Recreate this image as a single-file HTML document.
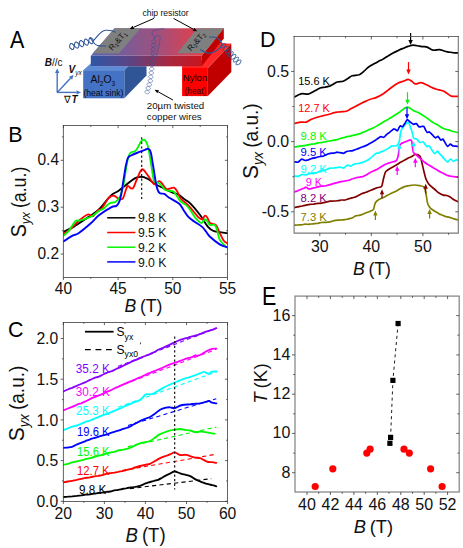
<!DOCTYPE html>
<html><head><meta charset="utf-8"><title>Figure</title>
<style>
html,body{margin:0;padding:0;background:#fff;}
body{width:463px;height:548px;overflow:hidden;font-family:"Liberation Sans",sans-serif;}
svg{display:block;}
text{font-family:"Liberation Sans",sans-serif;}
.c{fill:none;stroke-linecap:round;stroke-linejoin:round;}
.tk{stroke:#303030;stroke-width:0.75;fill:none;}
.tl{font-size:15.2px;fill:#111;}
.at{font-size:17.6px;fill:#111;word-spacing:-1.2px;}
.pl{font-size:21.5px;fill:#000;}
</style></head><body>
<svg width="463" height="548" viewBox="0 0 463 548">
<rect x="0" y="0" width="463" height="548" fill="#ffffff"/>
<g>
<defs>
<linearGradient id="gTop" x1="0" y1="0" x2="1" y2="0"><stop offset="0" stop-color="#5a66b2"/><stop offset="0.18" stop-color="#6e5f9e"/><stop offset="0.5" stop-color="#a0507e"/><stop offset="0.8" stop-color="#e0404c"/><stop offset="1" stop-color="#ff2a2a"/></linearGradient>
<linearGradient id="gFront" x1="0" y1="0" x2="1" y2="0"><stop offset="0" stop-color="#2f57a6"/><stop offset="0.35" stop-color="#5a4485"/><stop offset="0.7" stop-color="#a8283f"/><stop offset="1" stop-color="#c8141e"/></linearGradient>
</defs>
<polygon points="207.9,67.9 231.3,43.6 231.3,72 207.9,96.1" fill="#c00000"/>
<polygon points="182.1,67.9 182.1,62 200,62 219,40 223,43.6 231.3,43.6 207.9,67.9" fill="#ff2828"/>
<rect x="182.1" y="67.9" width="25.8" height="28.2" fill="#ff0000"/>
<polygon points="124.3,70.2 128.1,66.3 146.5,66.3 146.5,75.6 124.3,98.3" fill="#2f5597"/>
<polygon points="83.2,70.2 90.9,63.2 90.9,66.3 128.1,66.3 124.3,70.2" fill="#5b8ad6"/>
<rect x="83.2" y="70.2" width="41.1" height="28.1" fill="#4472c4"/>
<polygon points="90.8,55.8 114.5,28.2 223.8,28.2 201.8,55.8" fill="url(#gTop)"/>
<rect x="90.8" y="55.8" width="111" height="10.5" fill="url(#gFront)"/>
<polygon points="201.8,55.8 223.8,28.2 223.8,38.5 201.8,66.1" fill="#c00000"/>
<polygon points="92.6,53.4 114.5,28.2 140.6,28.2 119.0,53.4" fill="#7f7f7f"/>
<polygon points="177.2,53.2 197.3,28.2 223.8,28.2 203.8,53.2" fill="#7f7f7f"/>
<text transform="translate(112.3,51.0) rotate(-49)" style="font-size:8.2px;fill:#111">R<tspan font-size="5.5px" dy="1.5">1</tspan><tspan dy="-1.5">&amp;T</tspan><tspan font-size="5.5px" dy="1.5">1</tspan></text>
<text transform="translate(191.0,51.6) rotate(-49)" style="font-size:8.2px;fill:#111">R<tspan font-size="5.5px" dy="1.5">2</tspan><tspan dy="-1.5">&amp;T</tspan><tspan font-size="5.5px" dy="1.5">2</tspan></text>
<text x="102.8" y="83.4" text-anchor="middle" style="font-size:10.8px;fill:#0a0a14" textLength="24.5" lengthAdjust="spacingAndGlyphs">Al<tspan font-size="6.8px" dy="2.2">2</tspan><tspan dy="-2.2">O</tspan><tspan font-size="6.8px" dy="2.2">3</tspan></text>
<text x="103.4" y="95.9" text-anchor="middle" style="font-size:8.7px;fill:#0a0a14" textLength="40" lengthAdjust="spacingAndGlyphs">(heat sink)</text>
<text x="195.0" y="80.9" text-anchor="middle" style="font-size:9.8px;fill:#000000" textLength="24.4" lengthAdjust="spacingAndGlyphs">Nylon</text>
<text x="195.4" y="93.8" text-anchor="middle" style="font-size:8.5px;fill:#300000" textLength="21.8" lengthAdjust="spacingAndGlyphs">(heat)</text>
<text x="142.4" y="15.9" style="font-size:8.8px;fill:#111" textLength="46.2" lengthAdjust="spacingAndGlyphs">chip resistor</text>
<text x="146.8" y="108.9" style="font-size:9.9px;fill:#111" textLength="57.4" lengthAdjust="spacingAndGlyphs">20µm twisted</text>
<text x="146.8" y="119.6" style="font-size:9.9px;fill:#111" textLength="54.9" lengthAdjust="spacingAndGlyphs">copper wires</text>
<path d="M154.0,18.4L133.5,27.3" stroke="#000" stroke-width="1.0" fill="none"/>
<path d="M129.6,29.0L132.7,25.7L134.2,29.0Z" fill="#000"/>
<path d="M173.5,18.4L193.5,29.3" stroke="#000" stroke-width="1.0" fill="none"/>
<path d="M197.2,31.3L192.7,30.9L194.4,27.7Z" fill="#000"/>
<path d="M172.9,100.0L158.2,91.8" stroke="#000" stroke-width="1.0" fill="none"/>
<path d="M154.5,89.7L159.0,90.2L157.3,93.3Z" fill="#000"/>
<path d="M57.2,92.4L57.2,73.1" stroke="#4472c4" stroke-width="1.4" fill="none"/>
<path d="M57.2,68.6L59.4,73.1L55.0,73.1Z" fill="#4472c4"/>
<path d="M57.2,92.4L76.5,92.4" stroke="#4472c4" stroke-width="1.4" fill="none"/>
<path d="M81.0,92.4L76.5,94.6L76.5,90.2Z" fill="#4472c4"/>
<path d="M57.2,92.4L70.5,78.2" stroke="#4472c4" stroke-width="1.4" fill="none"/>
<path d="M73.6,74.9L72.1,79.7L68.9,76.7Z" fill="#4472c4"/>
<text x="44.8" y="65.8" style="font-size:10px;fill:#111"><tspan font-weight="bold" font-style="italic">B</tspan>//c</text>
<text x="68.6" y="73.0" style="font-size:10px;fill:#111"><tspan font-weight="bold" font-style="italic">V</tspan><tspan font-size="6.5px" font-style="italic" dy="2.4">yx</tspan></text>
<text x="64.4" y="103.4" style="font-size:10px;fill:#111">∇<tspan font-weight="bold" font-style="italic">T</tspan></text>
<path d="M69.5,47.2 L70.1,47.9 L70.8,48.5 L71.4,49.0 L71.9,49.4 L72.4,49.6 L72.8,49.5 L73.2,49.3 L73.5,48.9 L73.8,48.3 L74.0,47.5 L74.1,46.7 L74.3,45.8 L74.5,44.8 L74.6,44.0 L74.8,43.2 L75.1,42.6 L75.4,42.2 L75.8,42.0 L76.2,42.0 L76.7,42.1 L77.2,42.5 L77.8,43.0 L78.5,43.6 L79.1,44.3 L79.7,45.0 L80.4,45.6 L81.0,46.1 L81.5,46.5 L82.0,46.7 L82.4,46.7 L82.8,46.4 L83.1,46.0 L83.4,45.4 L83.6,44.7 L83.7,43.8 L83.9,42.9 L84.1,42.0 L84.2,41.1 L84.4,40.4 L84.7,39.7 L85.0,39.3 L85.4,39.1 L85.8,39.1 L86.3,39.3 L86.8,39.6 L87.4,40.1 L88.1,40.8 L88.7,41.4 L89.3,42.1 L90.0,42.7 L90.6,43.2 L91.1,43.6 L91.6,43.8 L92.0,43.8 L92.4,43.6 L92.7,43.1 L93.0,42.5 L93.2,41.8 L93.3,40.9 L93.5,40.0" fill="none" stroke="#2f5597" stroke-width="1.05" stroke-linejoin="round"/>
<path d="M69.5,47.2 L69.7,46.3 L69.8,45.4 L70.0,44.7 L70.3,44.1 L70.6,43.6 L71.0,43.4 L71.4,43.4 L71.9,43.6 L72.4,44.0 L73.0,44.5 L73.7,45.1 L74.3,45.8 L74.9,46.4 L75.6,47.1 L76.2,47.6 L76.7,47.9 L77.2,48.1 L77.6,48.1 L78.0,47.9 L78.3,47.5 L78.6,46.8 L78.8,46.1 L78.9,45.2 L79.1,44.3 L79.3,43.4 L79.4,42.5 L79.6,41.8 L79.9,41.2 L80.2,40.8 L80.6,40.5 L81.0,40.5 L81.5,40.7 L82.0,41.1 L82.6,41.6 L83.3,42.2 L83.9,42.9 L84.5,43.6 L85.2,44.2 L85.8,44.7 L86.3,45.1 L86.8,45.2 L87.2,45.2 L87.6,45.0 L87.9,44.6 L88.2,44.0 L88.4,43.2 L88.5,42.4 L88.7,41.4 L88.9,40.5 L89.0,39.7 L89.2,38.9 L89.5,38.3 L89.8,37.9 L90.2,37.7 L90.6,37.6 L91.1,37.8 L91.6,38.2 L92.2,38.7 L92.9,39.3 L93.5,40.0" fill="none" stroke="#2f5597" stroke-width="1.05" stroke-linejoin="round"/>
<path d="M92.5,41.5 C97,38 100,30.6 105.5,30.3 C108.5,30.1 112.5,30.2 115.8,32.4" fill="none" stroke="#2f5597" stroke-width="1.1"/>
<path d="M89.9,37.6 C92.5,40.5 94,45 98,45.6 C101,46.1 103.5,46 106.3,46" fill="none" stroke="#2f5597" stroke-width="1.1"/>
<path d="M221.8,44.4 L221.4,45.2 L221.0,46.0 L220.7,46.7 L220.6,47.3 L220.5,47.7 L220.7,48.0 L221.0,48.2 L221.4,48.2 L222.0,48.1 L222.7,47.8 L223.5,47.5 L224.4,47.2 L225.2,46.8 L226.0,46.5 L226.7,46.3 L227.3,46.2 L227.8,46.2 L228.1,46.3 L228.2,46.6 L228.2,47.1 L228.0,47.7 L227.7,48.4 L227.4,49.1 L226.9,49.9 L226.5,50.8 L226.2,51.5 L225.9,52.2 L225.7,52.8 L225.7,53.3 L225.8,53.6 L226.1,53.7 L226.6,53.7 L227.2,53.6 L227.9,53.4 L228.7,53.1 L229.5,52.7 L230.4,52.4 L231.2,52.1 L231.9,51.8 L232.5,51.7 L232.9,51.7 L233.2,51.9 L233.4,52.2 L233.3,52.6 L233.2,53.2 L232.9,53.9 L232.5,54.7 L232.1,55.5 L231.7,56.3 L231.3,57.1 L231.0,57.8 L230.8,58.4 L230.8,58.8 L231.0,59.1 L231.2,59.3 L231.7,59.3 L232.3,59.2 L233.0,58.9 L233.8,58.6 L234.7,58.3 L235.5,57.9 L236.3,57.6 L237.0,57.4 L237.6,57.2 L238.1,57.2 L238.4,57.4 L238.5,57.7 L238.5,58.2 L238.3,58.7 L238.0,59.4 L237.6,60.2 L237.2,61.0 L236.8,61.8 L236.4,62.6 L236.2,63.3 L236.0,63.9 L236.0,64.4 L236.1,64.7 L236.4,64.8 L236.8,64.8 L237.4,64.7 L238.2,64.5 L239.0,64.1 L239.8,63.8" fill="none" stroke="#2f5597" stroke-width="0.95" stroke-linejoin="round"/>
<path d="M221.8,44.4 L222.6,44.1 L223.4,43.7 L224.2,43.5 L224.8,43.4 L225.2,43.4 L225.5,43.5 L225.6,43.8 L225.6,44.3 L225.4,44.9 L225.2,45.6 L224.8,46.4 L224.4,47.2 L224.0,48.0 L223.6,48.8 L223.3,49.5 L223.1,50.0 L223.1,50.5 L223.2,50.8 L223.5,51.0 L224.0,51.0 L224.6,50.8 L225.3,50.6 L226.1,50.3 L226.9,49.9 L227.8,49.6 L228.6,49.3 L229.3,49.0 L229.9,48.9 L230.4,48.9 L230.6,49.1 L230.8,49.4 L230.8,49.8 L230.6,50.4 L230.3,51.1 L229.9,51.9 L229.5,52.7 L229.1,53.5 L228.7,54.3 L228.4,55.0 L228.3,55.6 L228.2,56.0 L228.4,56.3 L228.7,56.5 L229.1,56.5 L229.7,56.4 L230.4,56.1 L231.2,55.8 L232.1,55.5 L232.9,55.1 L233.7,54.8 L234.4,54.6 L235.0,54.5 L235.5,54.5 L235.8,54.6 L235.9,54.9 L235.9,55.4 L235.7,56.0 L235.4,56.7 L235.1,57.4 L234.7,58.3 L234.2,59.1 L233.9,59.8 L233.6,60.5 L233.4,61.1 L233.4,61.6 L233.5,61.9 L233.8,62.0 L234.3,62.0 L234.9,61.9 L235.6,61.7 L236.4,61.4 L237.2,61.0 L238.1,60.7 L238.9,60.4 L239.6,60.1 L240.2,60.0 L240.6,60.0 L240.9,60.2 L241.1,60.5 L241.0,60.9 L240.9,61.5 L240.6,62.2 L240.2,63.0 L239.8,63.8" fill="none" stroke="#2f5597" stroke-width="0.95" stroke-linejoin="round"/>
<path d="M209,37.3 C213,36.6 216.5,36.8 218.8,39 C220.8,41 221.6,43 223,46" fill="none" stroke="#2f5597" stroke-width="1.1"/>
<path d="M200.3,49.5 C203.5,51.5 206,53.3 209.5,53.1 C214,52.8 218.5,49.5 222,45.3" fill="none" stroke="#2f5597" stroke-width="1.1"/>
<path d="M154.0,39.5 L153.2,39.8 L152.5,40.2 L152.0,40.5 L151.6,40.9 L151.5,41.3 L151.5,41.7 L151.9,42.1 L152.4,42.5 L153.0,43.0 L153.7,43.4 L154.4,43.9 L155.1,44.3 L155.6,44.8 L155.9,45.2 L155.9,45.6 L155.8,46.0 L155.4,46.3 L154.9,46.7 L154.2,47.0 L153.4,47.4 L152.6,47.7 L151.9,48.0 L151.4,48.4 L151.0,48.8 L150.9,49.1 L151.0,49.5 L151.3,50.0 L151.8,50.4 L152.4,50.8 L153.1,51.3 L153.8,51.7 L154.5,52.2 L155.0,52.6 L155.3,53.0 L155.4,53.4 L155.2,53.8 L154.8,54.2 L154.3,54.5 L153.6,54.9 L152.8,55.2 L152.0,55.6 L151.3,55.9 L150.8,56.3 L150.4,56.6 L150.3,57.0 L150.4,57.4 L150.7,57.8 L151.2,58.3 L151.8,58.7 L152.5,59.2 L153.2,59.6 L153.9,60.0 L154.4,60.5 L154.7,60.9 L154.8,61.3 L154.6,61.7 L154.2,62.1 L153.7,62.4 L153.0,62.7 L152.2,63.1 L151.4,63.4 L150.8,63.8 L150.2,64.1 L149.8,64.5 L149.7,64.9 L149.8,65.3 L150.1,65.7 L150.6,66.1 L151.2,66.6 L151.9,67.0 L152.6,67.5 L153.2,68.0 L153.7,68.4 L154.0,68.8 L154.1,69.2 L153.9,69.6 L153.5,70.0 L153.0,70.3 L152.3,70.6 L151.5,70.9 L150.7,71.2 L150.0,71.6 L149.4,71.9 L149.0,72.2 L148.9,72.6 L148.9,73.0 L149.2,73.5 L149.7,73.9 L150.3,74.4 L151.0,74.8 L151.7,75.3 L152.3,75.8 L152.8,76.2 L153.1,76.7 L153.2,77.1 L153.0,77.5 L152.7,77.8 L152.1,78.1 L151.4,78.5 L150.6,78.8 L149.8,79.1 L149.1,79.4 L148.5,79.7 L148.1,80.1 L148.0,80.1 L148.0,80.5 L148.2,80.9 L148.6,81.5 L149.2,82.0 L149.8,82.6 L150.4,83.2 L150.9,83.7 L151.3,84.3 L151.6,84.7 L151.6,85.2 L151.3,85.5 L150.9,85.8 L150.3,86.0 L149.5,86.2 L148.7,86.4 L147.9,86.6 L147.2,86.8 L146.5,87.0 L146.1,87.3 L145.9,87.7 L145.9,88.1 L146.1,88.5 L146.5,89.1 L147.1,89.6 L147.7,90.2 L148.3,90.8 L148.8,91.3 L149.2,91.9 L149.4,92.3 L149.4,92.7 L149.2,93.1 L148.8,93.4 L148.2,93.6 L147.4,93.8 L146.6,94.0" fill="none" stroke="#2f5597" stroke-width="0.55" stroke-linejoin="round"/>
<path d="M154.0,39.5 L154.7,39.9 L155.3,40.4 L155.8,40.8 L156.2,41.2 L156.2,41.6 L156.1,42.0 L155.7,42.4 L155.2,42.8 L154.5,43.1 L153.7,43.4 L152.9,43.8 L152.2,44.1 L151.7,44.5 L151.3,44.8 L151.2,45.2 L151.2,45.6 L151.6,46.0 L152.1,46.5 L152.7,46.9 L153.4,47.4 L154.1,47.8 L154.8,48.3 L155.3,48.7 L155.6,49.1 L155.7,49.5 L155.5,49.9 L155.1,50.3 L154.6,50.6 L153.9,51.0 L153.1,51.3 L152.3,51.6 L151.6,52.0 L151.1,52.3 L150.7,52.7 L150.6,53.1 L150.7,53.5 L151.0,53.9 L151.5,54.3 L152.1,54.8 L152.8,55.2 L153.5,55.7 L154.2,56.1 L154.7,56.5 L155.0,57.0 L155.1,57.4 L154.9,57.8 L154.5,58.1 L154.0,58.5 L153.3,58.8 L152.5,59.2 L151.7,59.5 L151.0,59.8 L150.5,60.2 L150.1,60.6 L150.0,60.9 L150.1,61.3 L150.4,61.8 L150.9,62.2 L151.5,62.6 L152.2,63.1 L152.9,63.5 L153.6,64.0 L154.1,64.4 L154.4,64.8 L154.5,65.2 L154.3,65.6 L153.9,66.0 L153.4,66.3 L152.7,66.7 L151.9,67.0 L151.2,67.3 L150.4,67.6 L149.9,68.0 L149.5,68.3 L149.3,68.7 L149.4,69.1 L149.7,69.5 L150.2,70.0 L150.8,70.5 L151.5,70.9 L152.2,71.4 L152.8,71.9 L153.3,72.3 L153.6,72.8 L153.6,73.2 L153.5,73.5 L153.1,73.9 L152.5,74.2 L151.8,74.5 L151.0,74.8 L150.3,75.2 L149.5,75.5 L149.0,75.8 L148.6,76.2 L148.4,76.5 L148.5,76.9 L148.8,77.4 L149.3,77.8 L149.9,78.3 L150.6,78.8 L151.3,79.2 L151.9,79.7 L152.4,80.2 L152.7,80.6 L152.6,81.4 L152.4,81.7 L152.0,82.0 L151.4,82.2 L150.6,82.4 L149.8,82.6 L149.0,82.8 L148.2,83.0 L147.6,83.2 L147.2,83.5 L146.9,83.9 L146.9,84.3 L147.2,84.7 L147.6,85.3 L148.1,85.8 L148.7,86.4 L149.3,87.0 L149.9,87.5 L150.3,88.1 L150.5,88.5 L150.5,89.0 L150.3,89.3 L149.8,89.6 L149.2,89.8 L148.5,90.0 L147.7,90.2 L146.8,90.4 L146.1,90.6 L145.5,90.8 L145.0,91.1 L144.8,91.5 L144.8,91.9 L145.0,92.3 L145.5,92.9 L146.0,93.4 L146.6,94.0" fill="none" stroke="#2f5597" stroke-width="0.55" stroke-linejoin="round"/>
<path d="M164.3,28.6 C158,29 152,30.5 151.9,33 C151.8,35.5 156,36.5 154.5,39.5" fill="none" stroke="#2f5597" stroke-width="0.65"/>
<path d="M153.5,39 C156,35.5 160.5,33.8 160.2,37.5 C159.8,44 157.5,50 156.3,57" fill="none" stroke="#2f5597" stroke-width="0.6"/>
<text transform="translate(9.9,48.0) scale(1,1.085)" class="pl">A</text>
</g>
<g>
<clipPath id="clipB"><rect x="63.3" y="125.6" width="164.2" height="151.79999999999998"/></clipPath>
<g clip-path="url(#clipB)">
<path d="M63.4,231.8 C65.1,231.0 69.9,229.0 73.6,226.9 C77.2,224.8 81.1,222.1 85.3,219.2 C89.5,216.3 94.7,213.3 98.9,209.4 C103.1,205.5 107.3,198.9 110.5,195.8 C113.7,192.7 115.7,192.8 118.3,191.0 C120.9,189.2 123.7,186.8 126.0,185.0 C128.3,183.2 130.2,181.5 132.0,180.2 C133.8,178.9 135.6,178.0 137.0,177.4 C138.4,176.8 139.5,176.7 140.7,176.7 C141.9,176.7 143.0,176.8 144.2,177.2 C145.4,177.6 146.1,177.8 148.0,179.0 C149.9,180.2 153.1,182.7 155.6,184.2 C158.1,185.7 160.4,186.7 163.0,188.0 C165.6,189.3 168.3,190.8 171.0,192.0 C173.7,193.2 176.6,193.7 178.9,194.9 C181.2,196.2 182.8,198.1 184.7,199.5 C186.6,200.9 187.9,201.0 190.5,203.6 C193.1,206.2 197.4,211.4 200.3,215.3 C203.2,219.2 205.7,224.2 208.0,226.9 C210.3,229.6 211.6,230.3 213.9,231.2 C216.2,232.1 219.3,232.1 221.6,232.4 C223.9,232.7 226.5,233.1 227.5,233.2" class="c" stroke="#000000" stroke-width="1.85"/>
<path d="M63.4,233.7 C64.5,233.1 67.4,231.8 69.7,229.9 C72.0,228.0 75.2,224.1 77.5,222.0 C79.8,219.9 81.5,218.5 83.3,217.2 C85.1,215.9 86.6,214.5 88.2,214.3 C89.8,214.1 91.4,216.8 93.0,216.2 C94.6,215.5 96.4,211.7 97.9,210.4 C99.4,209.1 100.2,210.3 101.8,208.5 C103.4,206.7 106.1,201.3 107.6,199.3 C109.1,197.3 109.9,196.9 111.0,196.3 C112.1,195.7 113.2,195.4 114.4,195.8 C115.6,196.2 117.2,198.1 118.3,198.7 C119.4,199.3 120.2,199.3 121.0,199.2 C121.8,199.0 122.2,199.8 123.2,197.8 C124.2,195.8 126.0,188.9 127.0,187.0 C128.0,185.1 128.3,186.3 129.0,186.5 C129.7,186.7 130.2,188.2 131.0,188.4 C131.8,188.6 132.5,189.1 133.5,187.5 C134.5,185.9 135.6,182.0 137.0,179.0 C138.4,176.0 140.2,169.9 142.0,169.3 C143.8,168.7 145.9,173.0 147.8,175.4 C149.7,177.8 152.2,182.5 153.6,183.8 C155.0,185.1 155.5,183.4 156.5,183.0 C157.5,182.6 158.4,181.0 159.4,181.2 C160.4,181.4 161.4,182.7 162.5,184.0 C163.6,185.3 164.9,188.2 166.2,189.0 C167.4,189.8 168.7,188.7 170.0,188.5 C171.3,188.3 172.8,187.3 174.0,187.7 C175.2,188.1 175.9,189.2 177.0,191.0 C178.1,192.8 178.9,196.3 180.8,198.7 C182.7,201.1 185.7,202.5 188.6,205.6 C191.5,208.7 196.0,214.9 198.3,217.2 C200.6,219.5 201.1,219.4 202.2,219.2 C203.3,218.9 204.2,215.9 205.1,215.7 C206.0,215.5 206.7,216.8 207.5,218.0 C208.3,219.2 208.6,221.8 210.0,223.0 C211.4,224.2 214.2,223.4 215.8,225.0 C217.4,226.6 218.4,230.2 219.7,232.8 C221.0,235.4 222.3,238.7 223.6,240.5 C224.9,242.3 226.8,243.0 227.5,243.5" class="c" stroke="#ff0000" stroke-width="1.8"/>
<path d="M63.4,235.7 C64.3,234.9 66.7,233.2 68.7,230.8 C70.7,228.4 73.8,222.7 75.6,221.0 C77.4,219.3 77.8,221.1 79.4,220.7 C81.0,220.3 83.2,219.6 85.3,218.8 C87.4,218.1 89.7,217.5 92.0,216.2 C94.3,214.9 97.0,212.3 98.9,211.0 C100.9,209.7 101.9,209.8 103.7,208.5 C105.5,207.2 107.6,204.3 109.6,203.2 C111.5,202.1 113.6,203.2 115.4,202.0 C117.2,200.8 119.0,198.6 120.3,195.8 C121.6,193.0 122.5,190.0 123.5,185.0 C124.5,180.0 125.6,170.9 126.5,166.0 C127.4,161.1 128.1,157.8 128.9,155.5 C129.7,153.2 130.2,152.9 131.2,152.2 C132.2,151.5 133.8,152.1 134.9,151.3 C136.0,150.5 137.0,148.8 138.0,147.2 C139.0,145.6 140.0,142.9 141.0,141.6 C142.0,140.3 143.1,139.4 144.0,139.6 C144.9,139.8 145.8,140.9 146.6,142.6 C147.4,144.2 147.8,145.4 148.6,149.5 C149.4,153.6 150.8,162.3 151.6,167.3 C152.4,172.3 152.9,176.9 153.6,179.5 C154.2,182.1 154.7,182.0 155.5,182.6 C156.3,183.2 157.4,182.2 158.5,182.8 C159.6,183.4 160.9,184.8 162.0,186.0 C163.1,187.2 163.8,189.2 165.3,190.0 C166.8,190.8 169.6,190.7 171.0,191.0 C172.4,191.3 172.9,191.0 174.0,192.0 C175.1,193.0 176.4,195.4 177.5,197.0 C178.6,198.6 179.3,200.3 180.8,201.7 C182.3,203.1 184.9,203.9 186.7,205.6 C188.5,207.3 189.9,209.7 191.5,212.0 C193.1,214.3 194.8,217.4 196.4,219.2 C198.0,221.0 200.0,222.7 201.2,223.0 C202.4,223.3 202.8,221.6 203.5,221.0 C204.2,220.4 204.4,219.1 205.1,219.2 C205.8,219.3 206.7,220.5 207.5,221.5 C208.3,222.5 208.8,224.4 210.0,225.0 C211.2,225.6 213.6,224.0 214.8,225.0 C216.0,226.0 216.5,228.6 217.3,231.0 C218.1,233.4 218.3,237.0 219.7,239.6 C221.1,242.2 224.2,245.1 225.5,246.4 C226.8,247.8 227.2,247.5 227.5,247.7" class="c" stroke="#00f800" stroke-width="1.8"/>
<path d="M63.4,241.5 C64.9,240.5 70.1,237.1 72.6,235.7 C75.1,234.3 75.4,235.3 78.5,233.2 C81.6,231.1 87.7,226.0 91.1,223.0 C94.5,220.0 95.5,218.0 98.9,215.3 C102.3,212.7 108.6,208.7 111.5,207.1 C114.4,205.5 115.1,206.8 116.4,205.9 C117.7,205.0 118.5,203.7 119.3,201.7 C120.1,199.7 120.6,197.6 121.3,194.0 C122.0,190.4 122.7,184.8 123.5,180.0 C124.3,175.2 125.2,168.7 126.0,165.0 C126.8,161.3 127.2,159.5 128.0,157.9 C128.8,156.3 129.3,156.4 131.0,155.5 C132.7,154.6 135.7,153.4 138.0,152.5 C140.3,151.6 143.3,150.4 145.0,149.8 C146.7,149.2 147.2,148.4 148.2,148.8 C149.1,149.2 149.9,149.3 150.7,152.0 C151.5,154.7 152.0,159.3 153.0,165.0 C154.0,170.7 155.4,181.3 156.5,186.0 C157.6,190.7 158.1,191.6 159.4,192.9 C160.7,194.2 162.7,193.1 164.3,193.9 C165.9,194.7 166.8,196.2 169.2,197.8 C171.6,199.4 176.5,201.6 178.9,203.6 C181.3,205.6 181.9,207.7 183.5,210.0 C185.1,212.3 186.7,215.2 188.6,217.2 C190.5,219.2 192.7,220.4 195.0,222.0 C197.3,223.6 200.4,225.3 202.2,226.9 C204.0,228.5 204.7,229.9 206.0,231.5 C207.3,233.1 207.7,234.5 210.0,236.7 C212.3,238.8 216.8,242.6 219.7,244.4 C222.6,246.2 226.2,246.8 227.5,247.3" class="c" stroke="#0000ff" stroke-width="1.9"/>
</g>
<path d="M141.7,137.2 L141.7,199.0" fill="none" stroke="#000" stroke-width="1.1" stroke-linecap="butt" stroke-dasharray="2.2 2.4"/>
<rect x="63.3" y="125.6" width="164.2" height="151.8" fill="none" stroke="#303030" stroke-width="0.75"/>
<path d="M63.4,277.4v2.6 M63.4,125.6v2.6 M118.1,277.4v2.6 M118.1,125.6v2.6 M172.8,277.4v2.6 M172.8,125.6v2.6 M227.5,277.4v2.6 M227.5,125.6v2.6 " class="tk"/>
<path d="M90.8,277.4v1.4 M90.8,125.6v1.4 M145.4,277.4v1.4 M145.4,125.6v1.4 M200.2,277.4v1.4 M200.2,125.6v1.4 " class="tk"/>
<path d="M63.3,254.1h-2.6 M227.5,254.1h-2.6 M63.3,207.2h-2.6 M227.5,207.2h-2.6 M63.3,160.3h-2.6 M227.5,160.3h-2.6 " class="tk"/>
<path d="M63.3,230.7h-1.4 M227.5,230.7h-1.4 M63.3,183.8h-1.4 M227.5,183.8h-1.4 M63.3,136.9h-1.4 M227.5,136.9h-1.4 " class="tk"/>
<text transform="translate(63.4,293.7) scale(1,1.05)" class="tl" style="font-size:15.5px" text-anchor="middle">40</text>
<text transform="translate(118.1,293.7) scale(1,1.05)" class="tl" style="font-size:15.5px" text-anchor="middle">45</text>
<text transform="translate(172.8,293.7) scale(1,1.05)" class="tl" style="font-size:15.5px" text-anchor="middle">50</text>
<text transform="translate(227.5,293.7) scale(1,1.05)" class="tl" style="font-size:15.5px" text-anchor="middle">55</text>
<text transform="translate(59.0,259.2) scale(1,1.05)" class="tl" style="font-size:15.5px" text-anchor="end">0.2</text>
<text transform="translate(59.0,212.3) scale(1,1.05)" class="tl" style="font-size:15.5px" text-anchor="end">0.3</text>
<text transform="translate(59.0,165.4) scale(1,1.05)" class="tl" style="font-size:15.5px" text-anchor="end">0.4</text>
<text x="143.4" y="311.6" class="at" text-anchor="middle" ><tspan font-style="italic">B</tspan> (T)</text>
<text transform="translate(25.6,202.0) rotate(-90) scale(0.934,1.018)" text-anchor="middle" style="font-size:19px;fill:#111;word-spacing:-1px"><tspan font-size="21px">S</tspan><tspan font-style="italic" font-size="13px" dy="4.6">yx</tspan><tspan dy="-4.6"> (a.u.)</tspan></text>
<text transform="translate(8.3,141.8) scale(1,1.06)" class="pl">B</text>
<path d="M107.2,217.8 L135.4,217.8" fill="none" stroke="#000000" stroke-width="1.5" stroke-linecap="butt"/>
<text transform="translate(137.9,222.4) scale(1,1.1)" class="tl" style="font-size:11.8px" textLength="28.6" lengthAdjust="spacingAndGlyphs">9.8 K</text>
<path d="M107.2,232.5 L135.4,232.5" fill="none" stroke="#ff0000" stroke-width="1.5" stroke-linecap="butt"/>
<text transform="translate(137.9,237.1) scale(1,1.1)" class="tl" style="font-size:11.8px" textLength="28.6" lengthAdjust="spacingAndGlyphs">9.5 K</text>
<path d="M107.2,247.2 L135.4,247.2" fill="none" stroke="#00f800" stroke-width="1.5" stroke-linecap="butt"/>
<text transform="translate(137.9,251.8) scale(1,1.1)" class="tl" style="font-size:11.8px" textLength="28.6" lengthAdjust="spacingAndGlyphs">9.2 K</text>
<path d="M107.2,261.9 L135.4,261.9" fill="none" stroke="#0000ff" stroke-width="1.5" stroke-linecap="butt"/>
<text transform="translate(137.9,266.5) scale(1,1.1)" class="tl" style="font-size:11.8px" textLength="28.6" lengthAdjust="spacingAndGlyphs">9.0 K</text>
</g>
<g>
<clipPath id="clipC"><rect x="63.3" y="322.5" width="164.3" height="178.89999999999998"/></clipPath>
<g clip-path="url(#clipC)">
<path d="M130.0,488.6 L211.3,478.7" fill="none" stroke="#000000" stroke-width="1.1" stroke-linecap="butt" stroke-dasharray="4.2 3.2"/>
<path d="M122.0,470.6 L216.3,454.2" fill="none" stroke="#ff0000" stroke-width="1.1" stroke-linecap="butt" stroke-dasharray="4.2 3.2"/>
<path d="M128.0,446.6 L216.3,427.1" fill="none" stroke="#00f800" stroke-width="1.1" stroke-linecap="butt" stroke-dasharray="4.2 3.2"/>
<path d="M128.0,425.5 L216.3,398.7" fill="none" stroke="#0000ff" stroke-width="1.1" stroke-linecap="butt" stroke-dasharray="4.2 3.2"/>
<path d="M118.0,407.2 L216.3,372.0" fill="none" stroke="#00ffff" stroke-width="1.1" stroke-linecap="butt" stroke-dasharray="4.2 3.2"/>
<path d="M118.0,386.6 L216.3,349.3" fill="none" stroke="#ff00ff" stroke-width="1.1" stroke-linecap="butt" stroke-dasharray="4.2 3.2"/>
<path d="M118.0,366.4 L216.3,328.2" fill="none" stroke="#8800ff" stroke-width="1.1" stroke-linecap="butt" stroke-dasharray="4.2 3.2"/>
<path d="M63.3,391.5 C64.0,391.2 66.3,390.1 67.8,389.5 C69.2,388.8 70.7,388.4 72.2,387.8 C73.7,387.1 75.2,386.4 76.7,385.8 C78.1,385.2 79.6,384.6 81.1,384.0 C82.6,383.4 84.1,382.8 85.5,382.2 C87.0,381.5 88.5,380.6 90.0,379.9 C91.5,379.3 92.9,378.6 94.3,378.0 C95.8,377.5 97.2,377.3 98.7,376.7 C100.1,376.1 101.6,375.1 103.0,374.5 C104.4,373.8 105.9,373.1 107.3,372.6 C108.8,372.0 110.2,371.8 111.7,371.2 C113.1,370.6 114.6,369.6 116.0,369.0 C117.4,368.3 118.7,368.0 120.0,367.4 C121.3,366.7 122.7,365.9 124.0,365.3 C125.3,364.6 126.7,364.2 128.0,363.5 C129.3,362.9 130.7,362.0 132.0,361.4 C133.3,360.8 134.7,360.4 136.0,359.8 C137.3,359.3 138.5,358.8 140.0,358.1 C141.5,357.5 143.3,356.6 145.0,356.0 C146.7,355.3 148.4,354.8 150.0,354.1 C151.6,353.5 152.9,352.7 154.3,352.0 C155.8,351.2 157.2,350.2 158.7,349.5 C160.1,348.8 161.3,348.5 163.0,347.8 C164.7,347.0 166.9,346.0 168.8,345.1 C170.7,344.1 172.7,343.1 174.6,342.3 C176.5,341.4 178.4,340.6 180.3,339.9 C182.2,339.2 184.2,338.8 186.0,338.2 C187.8,337.7 189.3,337.1 191.0,336.7 C192.7,336.2 194.3,336.0 196.0,335.5 C197.7,335.0 199.3,334.3 201.0,333.7 C202.7,333.0 204.3,332.2 206.0,331.6 C207.7,331.0 209.5,330.7 211.2,330.1 C212.9,329.5 215.5,328.5 216.4,328.2" class="c" stroke="#8800ff" stroke-width="1.85"/>
<path d="M63.3,410.4 C64.0,410.1 66.3,409.1 67.8,408.5 C69.2,407.9 70.7,407.5 72.2,406.9 C73.7,406.3 75.2,405.4 76.7,404.8 C78.1,404.2 79.6,403.8 81.1,403.3 C82.6,402.7 84.1,402.1 85.5,401.4 C87.0,400.7 88.5,399.8 90.0,399.1 C91.5,398.4 92.9,397.8 94.3,397.2 C95.8,396.5 97.2,395.9 98.7,395.3 C100.1,394.7 101.6,394.4 103.0,393.8 C104.4,393.2 105.9,392.3 107.3,391.6 C108.8,390.9 110.2,390.4 111.7,389.8 C113.1,389.1 114.6,388.3 116.0,387.7 C117.4,387.1 118.7,386.6 120.0,386.0 C121.3,385.5 122.7,384.8 124.0,384.2 C125.3,383.6 126.7,383.0 128.0,382.4 C129.3,381.8 130.7,381.3 132.0,380.8 C133.3,380.2 134.7,379.6 136.0,379.0 C137.3,378.5 138.5,378.1 140.0,377.4 C141.5,376.8 143.3,375.8 145.0,375.0 C146.7,374.2 148.4,373.5 150.0,372.9 C151.6,372.2 152.9,371.7 154.3,371.1 C155.8,370.5 157.2,370.0 158.7,369.4 C160.1,368.8 161.3,368.3 163.0,367.5 C164.7,366.7 166.9,365.6 168.8,364.8 C170.7,364.0 172.7,363.5 174.6,362.8 C176.5,362.2 178.4,361.5 180.3,360.8 C182.2,360.1 184.1,359.4 186.0,358.7 C187.9,358.1 190.4,357.6 192.0,357.0 C193.6,356.5 194.2,355.8 195.4,355.5 C196.6,355.3 197.2,356.1 199.0,355.4 C200.8,354.8 203.8,352.6 206.0,351.5 C208.2,350.4 210.3,349.3 212.0,348.8 C213.7,348.4 215.7,348.6 216.4,348.6" class="c" stroke="#ff00ff" stroke-width="1.85"/>
<path d="M63.3,430.1 C64.0,429.8 66.3,429.0 67.8,428.4 C69.2,427.8 70.7,427.2 72.2,426.7 C73.7,426.2 75.2,425.9 76.7,425.5 C78.1,425.0 79.6,424.5 81.1,423.9 C82.6,423.3 84.1,422.4 85.5,421.9 C87.0,421.3 88.5,421.2 90.0,420.7 C91.5,420.1 92.9,419.3 94.4,418.7 C95.9,418.1 97.3,417.4 98.8,416.8 C100.3,416.2 101.7,415.7 103.2,415.1 C104.7,414.6 106.1,414.2 107.6,413.6 C109.1,413.1 110.5,412.6 112.0,411.9 C113.5,411.3 114.9,410.4 116.4,409.8 C117.9,409.1 119.4,408.7 120.9,408.1 C122.4,407.4 124.0,406.4 125.5,405.8 C127.0,405.1 128.4,404.8 130.0,404.1 C131.6,403.4 133.4,402.5 135.2,401.8 C136.9,401.1 138.5,401.2 140.3,400.0 C142.1,398.8 143.9,395.4 145.8,394.4 C147.7,393.5 149.8,394.7 151.7,394.2 C153.6,393.7 155.5,392.4 157.3,391.3 C159.2,390.3 161.1,388.9 163.0,387.9 C164.9,386.9 166.9,386.0 168.8,385.1 C170.7,384.2 172.9,383.4 174.6,382.6 C176.3,381.9 177.7,381.2 179.3,380.6 C180.8,380.0 182.4,379.5 183.9,378.9 C185.5,378.4 186.6,377.9 188.6,377.3 C190.6,376.6 194.1,375.5 196.0,374.9 C197.9,374.2 198.7,373.8 200.1,373.3 C201.5,372.8 202.9,371.8 204.2,371.9 C205.5,371.9 206.7,373.7 208.0,373.7 C209.3,373.7 210.6,372.1 212.0,371.7 C213.4,371.3 215.7,371.5 216.4,371.5" class="c" stroke="#00ffff" stroke-width="1.85"/>
<path d="M63.3,447.8 C64.0,447.7 66.2,447.6 67.7,447.5 C69.1,447.3 70.5,447.3 72.0,446.8 C73.5,446.4 75.0,445.3 76.5,444.7 C78.0,444.0 79.5,443.5 81.0,442.9 C82.6,442.3 84.1,441.7 85.6,441.1 C87.1,440.5 88.7,439.8 90.1,439.3 C91.5,438.8 92.8,438.5 94.1,438.0 C95.5,437.6 96.8,437.2 98.1,436.8 C99.5,436.4 100.8,436.0 102.2,435.6 C103.5,435.2 104.8,435.0 106.2,434.6 C107.5,434.2 108.9,433.6 110.2,433.1 C111.5,432.6 112.9,432.2 114.2,431.8 C115.6,431.4 116.9,431.2 118.2,430.7 C119.6,430.3 120.9,429.7 122.3,429.2 C123.6,428.7 124.9,428.5 126.3,428.0 C127.7,427.5 129.3,426.8 130.9,426.1 C132.4,425.3 133.9,424.3 135.4,423.4 C137.0,422.6 138.4,421.9 140.0,421.1 C141.6,420.4 143.3,419.5 145.0,418.8 C146.7,418.1 148.3,417.9 150.0,417.0 C151.7,416.2 153.4,414.8 155.1,413.6 C156.7,412.4 158.3,410.7 160.1,409.7 C161.9,408.7 164.3,408.1 166.0,407.7 C167.7,407.3 168.7,407.2 170.1,407.3 C171.5,407.4 173.4,408.4 174.7,408.2 C176.0,408.1 176.8,407.1 178.0,406.6 C179.2,406.0 180.2,405.4 182.2,405.0 C184.2,404.6 188.0,404.5 190.0,404.3 C192.0,404.1 192.8,403.9 194.2,403.8 C195.5,403.7 196.9,403.9 198.3,403.7 C199.7,403.6 201.0,403.3 202.3,402.9 C203.6,402.6 205.2,402.0 206.3,401.7 C207.4,401.4 208.1,400.8 209.0,400.9 C209.9,401.1 210.8,402.3 212.0,402.7 C213.2,403.1 215.7,403.3 216.4,403.4" class="c" stroke="#0000ff" stroke-width="1.85"/>
<path d="M63.3,464.7 C64.0,464.6 66.3,464.2 67.8,463.8 C69.3,463.5 70.7,462.8 72.2,462.4 C73.7,462.0 75.2,461.8 76.7,461.4 C78.2,461.1 79.7,460.8 81.2,460.4 C82.7,460.0 84.1,459.6 85.6,459.2 C87.1,458.8 88.7,458.5 90.1,458.1 C91.5,457.8 92.8,457.4 94.1,457.0 C95.5,456.6 96.8,456.2 98.1,455.9 C99.5,455.5 100.8,455.3 102.2,454.9 C103.5,454.5 104.8,454.0 106.2,453.6 C107.5,453.2 108.9,452.8 110.2,452.5 C111.5,452.2 112.9,452.1 114.2,451.8 C115.6,451.4 116.9,450.8 118.2,450.4 C119.6,450.1 120.9,450.0 122.3,449.8 C123.6,449.5 124.9,449.2 126.3,448.9 C127.6,448.5 128.8,448.3 130.3,447.7 C131.8,447.1 133.5,446.1 135.2,445.4 C136.8,444.6 138.4,443.9 140.0,443.4 C141.6,442.8 143.3,442.5 145.0,442.1 C146.7,441.7 148.3,441.8 150.0,441.0 C151.7,440.3 153.4,438.8 155.1,437.6 C156.7,436.5 157.9,435.3 160.1,434.2 C162.3,433.1 165.6,431.9 168.0,431.1 C170.4,430.3 172.7,430.0 174.7,429.6 C176.7,429.3 178.4,429.0 180.2,429.0 C181.9,429.1 183.5,429.7 185.2,430.0 C186.9,430.2 188.4,430.1 190.2,430.5 C192.0,430.9 194.5,432.1 196.2,432.3 C197.9,432.4 198.2,431.3 200.2,431.3 C202.2,431.4 205.6,432.3 208.0,432.7 C210.4,433.1 213.6,433.5 214.7,433.7" class="c" stroke="#00f800" stroke-width="1.85"/>
<path d="M63.3,482.3 C64.0,482.2 66.3,481.8 67.8,481.5 C69.3,481.3 70.7,481.1 72.2,480.8 C73.7,480.5 75.2,480.1 76.7,479.8 C78.2,479.4 79.7,479.1 81.2,478.8 C82.7,478.5 84.1,478.2 85.6,477.9 C87.1,477.7 88.7,477.6 90.1,477.3 C91.5,477.0 92.8,476.6 94.1,476.3 C95.5,476.1 96.8,476.1 98.1,475.9 C99.5,475.6 100.8,475.4 102.2,475.1 C103.5,474.8 104.8,474.3 106.2,473.9 C107.5,473.6 108.9,473.4 110.2,473.2 C111.5,473.0 112.9,472.9 114.2,472.7 C115.6,472.4 116.9,472.0 118.2,471.8 C119.6,471.5 120.9,471.3 122.3,471.1 C123.6,470.8 124.9,470.3 126.3,470.0 C127.6,469.7 128.8,469.5 130.3,469.1 C131.8,468.7 133.5,468.0 135.2,467.5 C136.8,467.0 138.4,466.5 140.0,466.0 C141.6,465.6 143.3,465.2 145.0,464.8 C146.7,464.4 148.3,464.5 150.0,463.8 C151.7,463.2 153.4,462.0 155.1,461.0 C156.7,460.1 158.4,459.0 160.1,458.2 C161.8,457.4 163.4,456.8 165.1,456.2 C166.8,455.5 168.5,455.0 170.1,454.4 C171.7,453.8 173.0,452.3 174.7,452.4 C176.4,452.5 178.3,454.6 180.2,455.0 C182.1,455.4 184.5,454.6 186.2,454.8 C187.9,455.0 188.9,455.7 190.2,456.1 C191.5,456.5 192.5,457.1 194.2,457.4 C195.9,457.8 198.5,457.7 200.2,458.2 C201.9,458.6 202.9,459.6 204.2,460.2 C205.6,460.9 207.0,461.7 208.3,462.0 C209.6,462.3 211.0,462.1 212.3,462.2 C213.6,462.4 215.6,462.8 216.3,462.9" class="c" stroke="#ff0000" stroke-width="1.85"/>
<path d="M63.3,497.0 C64.0,496.9 66.3,496.8 67.8,496.7 C69.3,496.5 70.7,496.4 72.2,496.3 C73.7,496.1 75.2,495.9 76.7,495.8 C78.2,495.6 79.7,495.4 81.2,495.3 C82.7,495.1 84.1,494.9 85.6,494.7 C87.1,494.6 88.7,494.5 90.1,494.3 C91.5,494.2 92.8,493.9 94.1,493.7 C95.5,493.5 96.8,493.2 98.1,493.0 C99.5,492.9 100.8,492.8 102.2,492.6 C103.5,492.5 104.8,492.1 106.2,491.9 C107.5,491.7 108.9,491.8 110.2,491.5 C111.5,491.3 112.9,490.7 114.2,490.4 C115.6,490.1 116.9,490.2 118.2,489.9 C119.6,489.7 120.9,489.3 122.3,489.0 C123.6,488.7 124.9,488.5 126.3,488.3 C127.6,488.0 128.8,487.7 130.3,487.5 C131.8,487.2 133.5,487.0 135.2,486.8 C136.8,486.5 138.4,486.4 140.0,485.9 C141.6,485.4 143.3,484.4 145.0,483.7 C146.7,483.0 148.5,482.5 150.0,482.0 C151.5,481.5 152.7,481.1 154.1,480.8 C155.4,480.4 156.8,480.3 158.1,479.8 C159.4,479.3 160.8,478.4 162.1,477.7 C163.4,476.9 164.7,476.0 166.1,475.3 C167.5,474.6 169.0,473.9 170.4,473.3 C171.8,472.6 173.1,471.5 174.7,471.5 C176.3,471.5 178.4,472.8 180.2,473.3 C181.9,473.9 183.5,474.3 185.2,474.7 C186.9,475.2 188.7,475.5 190.2,476.2 C191.7,476.9 192.9,477.9 194.2,478.6 C195.5,479.4 196.7,480.0 198.2,480.7 C199.7,481.4 201.6,482.0 203.2,482.6 C204.9,483.2 206.8,483.8 208.3,484.2 C209.8,484.7 211.0,484.8 212.3,485.2 C213.6,485.5 215.6,486.1 216.3,486.3" class="c" stroke="#000000" stroke-width="1.85"/>
</g>
<path d="M174.7,336.5 L174.7,489.5" fill="none" stroke="#000" stroke-width="1.1" stroke-linecap="butt" stroke-dasharray="2.2 2.4"/>
<rect x="63.3" y="322.5" width="164.3" height="178.9" fill="none" stroke="#303030" stroke-width="0.75"/>
<path d="M63.3,501.4v2.6 M63.3,322.5v2.6 M104.4,501.4v2.6 M104.4,322.5v2.6 M145.4,501.4v2.6 M145.4,322.5v2.6 M186.5,501.4v2.6 M186.5,322.5v2.6 M227.6,501.4v2.6 M227.6,322.5v2.6 " class="tk"/>
<path d="M83.8,501.4v1.4 M83.8,322.5v1.4 M124.9,501.4v1.4 M124.9,322.5v1.4 M166.0,501.4v1.4 M166.0,322.5v1.4 M207.1,501.4v1.4 M207.1,322.5v1.4 " class="tk"/>
<path d="M63.3,501.3h-2.6 M227.6,501.3h-2.6 M63.3,460.6h-2.6 M227.6,460.6h-2.6 M63.3,419.9h-2.6 M227.6,419.9h-2.6 M63.3,379.2h-2.6 M227.6,379.2h-2.6 M63.3,338.5h-2.6 M227.6,338.5h-2.6 " class="tk"/>
<path d="M63.3,480.9h-1.4 M227.6,480.9h-1.4 M63.3,440.2h-1.4 M227.6,440.2h-1.4 M63.3,399.6h-1.4 M227.6,399.6h-1.4 M63.3,358.9h-1.4 M227.6,358.9h-1.4 " class="tk"/>
<text transform="translate(63.3,519.4) scale(1,1.08)" class="tl" style="font-size:15.7px" text-anchor="middle">20</text>
<text transform="translate(104.4,519.4) scale(1,1.08)" class="tl" style="font-size:15.7px" text-anchor="middle">30</text>
<text transform="translate(145.4,519.4) scale(1,1.08)" class="tl" style="font-size:15.7px" text-anchor="middle">40</text>
<text transform="translate(186.5,519.4) scale(1,1.08)" class="tl" style="font-size:15.7px" text-anchor="middle">50</text>
<text transform="translate(227.6,519.4) scale(1,1.08)" class="tl" style="font-size:15.7px" text-anchor="middle">60</text>
<text transform="translate(58.2,507.1) scale(1,1.08)" class="tl" style="font-size:15.7px" text-anchor="end">0.0</text>
<text transform="translate(58.2,466.4) scale(1,1.08)" class="tl" style="font-size:15.7px" text-anchor="end">0.5</text>
<text transform="translate(58.2,425.7) scale(1,1.08)" class="tl" style="font-size:15.7px" text-anchor="end">1.0</text>
<text transform="translate(58.2,385.0) scale(1,1.08)" class="tl" style="font-size:15.7px" text-anchor="end">1.5</text>
<text transform="translate(58.2,344.3) scale(1,1.08)" class="tl" style="font-size:15.7px" text-anchor="end">2.0</text>
<text transform="translate(145.6,541.6) scale(1,1.08)" class="at" style="font-size:18.6px" text-anchor="middle"><tspan font-style="italic">B</tspan> (T)</text>
<text transform="translate(23.7,403.5) rotate(-90) scale(1.000,1.090)" text-anchor="middle" style="font-size:19px;fill:#111;word-spacing:-1px"><tspan font-size="21px">S</tspan><tspan font-style="italic" font-size="13px" dy="4.6">yx</tspan><tspan dy="-4.6"> (a.u.)</tspan></text>
<text transform="translate(8.0,336.5) scale(1,1.06)" class="pl">C</text>
<text x="75.8" y="372.9" class="tl" text-anchor="start" style="font-size:12px;fill:#8800ff" textLength="34" lengthAdjust="spacingAndGlyphs">35.2 K</text>
<text x="75.8" y="396.3" class="tl" text-anchor="start" style="font-size:12px;fill:#ff00ff" textLength="34" lengthAdjust="spacingAndGlyphs">30.2 K</text>
<text x="76.1" y="414.5" class="tl" text-anchor="start" style="font-size:12px;fill:#00ffff" textLength="33.4" lengthAdjust="spacingAndGlyphs">25.3 K</text>
<text x="77.1" y="436.1" class="tl" text-anchor="start" style="font-size:12px;fill:#0000ff" textLength="32.4" lengthAdjust="spacingAndGlyphs">19.6 K</text>
<text x="77.1" y="456.2" class="tl" text-anchor="start" style="font-size:12px;fill:#00f800" textLength="32.4" lengthAdjust="spacingAndGlyphs">15.6 K</text>
<text x="77.1" y="474.7" class="tl" text-anchor="start" style="font-size:12px;fill:#ff0000" textLength="32.4" lengthAdjust="spacingAndGlyphs">12.7 K</text>
<text x="79.1" y="494.4" class="tl" text-anchor="start" style="font-size:12px;fill:#000000" textLength="27.2" lengthAdjust="spacingAndGlyphs">9.8 K</text>
<path d="M85.0,331.7 L113.6,331.7" fill="none" stroke="#000" stroke-width="1.8" stroke-linecap="butt"/>
<path d="M85.0,349.6 L113.5,349.6" fill="none" stroke="#000" stroke-width="1.4" stroke-linecap="butt" stroke-dasharray="5.8 4.7"/>
<text x="116.6" y="336.0" style="font-size:12px;fill:#000">S<tspan font-size="8.6px" dy="3.8">yx</tspan></text>
<text x="116.6" y="353.5" style="font-size:12px;fill:#000">S<tspan font-size="8.6px" dy="3.8">yx0</tspan></text>
<path d="M140.7,342.3 L140.4,344.3" fill="none" stroke="#222" stroke-width="0.8" stroke-linecap="butt"/>
</g>
<g>
<clipPath id="clipD"><rect x="294.1" y="36.5" width="164.2" height="196.6"/></clipPath>
<g clip-path="url(#clipD)">
<path d="M294.0,225.2 C294.5,225.2 296.7,225.0 297.7,225.0 C298.6,224.9 300.4,225.0 301.3,224.9 C302.3,224.8 304.1,224.3 305.0,224.2 C305.9,224.1 307.4,224.3 308.3,224.3 C309.1,224.2 310.7,224.1 311.5,224.0 C312.4,223.9 313.9,223.7 314.8,223.6 C315.6,223.5 317.2,223.5 318.0,223.3 C318.9,223.2 320.3,222.6 321.3,222.5 C322.3,222.4 324.5,222.4 325.6,222.3 C326.8,222.2 328.9,222.0 330.0,221.8 C331.1,221.6 333.0,220.9 334.1,220.7 C335.2,220.5 337.2,220.3 338.2,220.2 C339.2,220.1 340.7,219.9 341.6,219.9 C342.5,219.8 344.1,219.9 345.0,219.7 C345.9,219.6 347.6,219.0 348.6,218.8 C349.6,218.6 351.3,218.4 352.2,218.0 C353.1,217.6 354.6,216.3 355.7,215.9 C356.8,215.5 359.1,215.5 360.3,215.1 C361.5,214.8 363.7,213.8 365.0,213.2 C366.3,212.7 369.2,211.7 370.3,211.2 C371.4,210.7 372.8,210.4 373.4,209.6 C374.0,208.8 374.3,206.2 374.6,205.1 C374.9,204.1 375.5,202.5 376.0,201.9 C376.5,201.2 377.5,200.6 378.0,200.2 C378.5,199.8 379.1,199.4 380.0,199.0 C380.9,198.5 383.7,197.4 385.0,196.7 C386.3,196.0 388.6,194.6 390.0,193.9 C391.4,193.2 394.1,192.1 395.4,191.4 C396.7,190.7 398.9,189.4 400.0,188.8 C401.1,188.2 402.8,187.3 404.0,186.9 C405.2,186.5 407.6,185.9 409.0,185.7 C410.4,185.4 413.1,185.0 414.5,185.0 C415.9,185.0 418.2,185.3 419.5,185.6 C420.8,185.9 423.2,186.2 424.0,187.1 C424.8,188.0 425.4,190.8 425.7,192.2 C426.0,193.6 426.4,196.1 426.6,197.5 C426.8,199.0 427.2,201.8 427.5,202.9 C427.8,204.1 428.5,205.6 429.0,206.3 C429.5,207.1 430.1,208.0 430.9,208.6 C431.7,209.3 433.8,210.6 434.9,211.3 C436.0,212.0 438.3,213.4 439.3,213.9 C440.3,214.5 441.8,214.9 442.6,215.3 C443.5,215.7 445.1,216.4 446.0,216.7 C446.9,216.9 448.7,217.1 449.6,217.4 C450.6,217.6 452.1,218.2 453.3,218.6 C454.5,218.9 457.8,219.8 458.5,220.0" class="c" stroke="#808000" stroke-width="1.7"/>
<path d="M294.0,207.6 C294.5,207.5 296.9,207.1 298.0,206.9 C299.1,206.7 300.9,206.2 302.0,206.0 C303.1,205.7 305.0,205.3 306.1,205.1 C307.1,204.9 309.1,204.5 310.1,204.4 C311.1,204.3 312.8,204.2 313.8,204.1 C314.8,203.9 316.6,203.5 317.6,203.4 C318.6,203.3 320.2,203.3 321.3,203.1 C322.4,203.0 324.6,202.4 325.8,202.2 C326.9,201.9 329.1,201.4 330.2,201.2 C331.3,201.1 333.1,201.1 334.1,201.0 C335.1,201.0 337.0,200.8 338.0,200.7 C339.0,200.6 340.6,200.1 341.5,200.0 C342.4,199.9 343.8,200.2 345.0,200.0 C346.2,199.7 348.9,198.7 350.2,198.4 C351.5,198.0 353.4,197.7 354.5,197.3 C355.6,197.0 357.2,196.1 358.2,195.6 C359.2,195.1 360.9,194.0 362.0,193.5 C363.1,193.1 365.0,192.6 366.1,192.2 C367.3,191.8 369.0,191.0 370.3,190.5 C371.6,189.9 374.5,188.6 376.0,188.1 C377.5,187.5 380.5,187.3 381.4,186.6 C382.3,185.9 382.3,183.9 382.6,182.8 C382.9,181.7 383.2,179.6 383.6,178.2 C384.0,176.8 384.8,173.2 385.4,172.1 C386.0,171.0 387.0,170.5 388.0,169.8 C389.0,169.1 391.7,167.6 392.9,166.9 C394.1,166.2 396.1,165.2 397.1,164.6 C398.1,164.0 399.6,162.9 400.5,162.3 C401.4,161.8 403.1,161.0 404.0,160.4 C404.9,159.9 406.5,158.9 407.5,158.4 C408.5,157.9 410.5,157.2 411.5,156.7 C412.5,156.1 414.2,154.6 415.3,154.5 C416.4,154.4 418.9,155.1 419.7,155.8 C420.5,156.5 420.9,158.5 421.2,159.7 C421.5,160.8 421.9,162.8 422.3,164.4 C422.7,166.0 423.5,169.9 424.0,171.8 C424.5,173.6 425.2,176.8 425.7,178.3 C426.2,179.7 427.2,181.7 427.8,182.6 C428.4,183.6 429.1,184.4 430.0,185.3 C430.9,186.2 433.7,188.5 434.9,189.5 C436.1,190.5 437.9,192.3 439.0,193.0 C440.1,193.7 442.4,194.8 443.3,195.1 C444.2,195.4 445.2,195.2 446.0,195.4 C446.8,195.6 448.2,195.8 449.3,196.4 C450.4,197.0 452.8,199.1 454.0,199.8 C455.2,200.5 457.9,201.7 458.5,202.0" class="c" stroke="#800000" stroke-width="1.7"/>
<path d="M294.0,191.9 C294.4,191.8 296.2,191.4 297.0,191.1 C297.8,190.8 299.1,190.0 300.0,189.7 C300.9,189.3 303.2,188.6 304.0,188.2 C304.8,187.9 305.6,186.9 306.1,187.0 C306.6,187.0 307.5,188.3 308.0,188.6 C308.5,188.8 309.2,189.0 310.1,188.9 C311.0,188.8 313.7,187.9 315.0,187.6 C316.3,187.2 318.7,186.5 320.0,186.3 C321.3,186.1 323.6,186.2 325.0,186.0 C326.4,185.7 328.9,185.0 330.2,184.6 C331.5,184.2 333.7,183.5 335.0,183.1 C336.3,182.7 338.7,182.1 340.0,181.8 C341.3,181.5 343.8,181.3 345.0,181.0 C346.2,180.8 348.1,180.5 349.1,180.2 C350.1,179.9 351.6,179.1 352.6,178.8 C353.5,178.5 355.1,178.0 356.0,177.8 C356.9,177.5 358.5,177.2 359.4,177.1 C360.2,176.9 361.7,176.9 362.7,176.6 C363.7,176.3 365.5,175.3 366.5,174.7 C367.5,174.2 369.3,173.1 370.3,172.5 C371.3,172.0 373.1,171.2 374.1,170.7 C375.1,170.2 376.8,169.5 377.8,168.9 C378.8,168.4 380.6,167.2 381.6,166.6 C382.6,166.0 384.5,164.8 385.4,164.3 C386.3,163.9 387.5,163.4 388.2,163.1 C388.9,162.8 390.0,162.7 391.0,162.4 C392.0,162.1 395.1,161.5 395.9,161.0 C396.7,160.5 397.0,159.5 397.3,158.7 C397.6,158.0 398.0,156.7 398.2,155.6 C398.4,154.4 398.8,151.6 399.0,150.3 C399.2,148.9 399.4,146.6 399.7,145.6 C400.0,144.7 401.0,143.8 401.5,143.4 C402.0,143.0 402.8,142.9 403.5,142.6 C404.2,142.3 406.1,141.6 407.0,141.2 C407.9,140.8 409.8,139.9 410.4,139.9 C411.0,139.9 411.3,140.2 411.6,141.1 C411.9,142.0 412.2,144.8 412.4,146.3 C412.6,147.8 412.9,151.1 413.4,152.3 C413.9,153.4 415.0,153.8 416.0,154.7 C417.0,155.7 420.1,158.4 421.2,159.4 C422.3,160.3 423.3,161.3 424.1,161.9 C424.9,162.5 426.2,163.5 427.0,164.0 C427.8,164.5 429.3,165.3 430.1,165.8 C430.9,166.3 432.3,167.2 433.2,167.8 C434.1,168.3 435.7,169.0 436.6,169.6 C437.5,170.1 439.1,171.3 440.0,171.8 C440.9,172.4 442.7,173.0 443.6,173.4 C444.6,173.9 446.2,175.0 447.3,175.4 C448.4,175.8 450.9,176.3 452.0,176.5 C453.1,176.7 454.4,176.7 455.2,176.8 C456.1,176.9 458.1,177.2 458.5,177.3" class="c" stroke="#ff00ff" stroke-width="1.7"/>
<path d="M294.0,175.9 C294.5,176.0 297.1,176.6 298.0,176.4 C298.9,176.2 301.1,174.7 302.0,174.5 C302.9,174.3 305.1,175.0 306.0,174.9 C306.9,174.8 309.2,173.6 310.1,173.4 C311.0,173.3 313.2,173.7 314.0,173.5 C314.8,173.4 316.3,172.8 317.0,172.5 C317.7,172.2 319.4,171.3 320.0,171.1 C320.6,170.8 321.9,170.7 322.5,170.6 C323.1,170.5 324.4,170.4 325.0,170.2 C325.6,170.1 327.0,169.3 327.6,169.0 C328.2,168.8 329.6,168.3 330.2,168.2 C330.8,168.1 332.0,168.1 332.6,168.0 C333.2,168.0 334.4,167.9 335.0,167.8 C335.6,167.7 336.9,167.6 337.5,167.5 C338.1,167.4 339.3,167.0 340.0,167.1 C340.7,167.1 342.9,168.2 343.8,168.0 C344.7,167.7 346.8,165.2 347.6,165.0 C348.4,164.8 350.0,166.2 350.6,166.2 C351.2,166.2 352.3,165.1 352.9,164.8 C353.4,164.5 354.4,163.9 355.1,163.8 C355.8,163.6 358.1,163.5 359.0,163.4 C359.9,163.2 361.8,162.7 362.7,162.4 C363.6,162.1 365.6,161.3 366.5,160.8 C367.4,160.3 369.4,159.1 370.2,158.4 C371.0,157.8 372.8,156.0 373.5,155.4 C374.2,154.8 375.7,153.5 376.3,153.2 C376.9,153.0 378.0,153.4 378.5,153.2 C379.0,153.1 380.3,152.2 380.8,151.9 C381.3,151.7 382.5,151.6 383.0,151.3 C383.5,151.1 384.8,150.2 385.4,149.9 C386.0,149.5 387.7,148.7 388.4,148.3 C389.1,147.8 390.7,146.4 391.4,146.1 C392.1,145.9 393.4,146.1 394.0,146.0 C394.6,146.0 396.1,146.0 396.7,145.6 C397.3,145.2 398.6,143.5 399.0,142.6 C399.4,141.7 399.6,138.9 399.8,137.8 C400.0,136.6 400.3,133.9 400.5,132.9 C400.7,131.9 401.4,130.0 401.8,129.2 C402.2,128.5 403.1,127.0 403.5,126.4 C403.9,125.8 405.0,124.7 405.4,124.3 C405.8,123.8 406.9,122.9 407.3,122.7 C407.7,122.5 408.1,122.2 408.4,122.4 C408.7,122.7 409.2,123.8 409.6,124.7 C410.0,125.7 411.2,129.5 411.6,130.6 C412.0,131.8 412.4,133.5 412.6,134.4 C412.8,135.2 413.3,137.6 413.6,138.1 C413.9,138.6 414.8,138.7 415.2,138.8 C415.6,138.9 416.6,138.9 417.0,139.3 C417.4,139.6 418.4,141.2 418.8,141.5 C419.2,141.9 419.9,142.4 420.4,142.5 C420.9,142.5 422.5,141.5 423.1,141.8 C423.7,142.0 424.7,144.2 425.2,144.8 C425.7,145.4 426.7,146.4 427.2,146.6 C427.7,146.7 428.7,145.6 429.3,146.0 C429.9,146.4 431.4,149.4 432.0,150.2 C432.6,151.1 434.1,153.5 434.7,153.6 C435.3,153.7 436.9,151.2 437.4,151.2 C437.9,151.2 438.8,153.1 439.2,153.5 C439.6,153.9 440.2,154.2 440.8,154.9 C441.4,155.5 443.4,157.9 444.2,158.8 C445.0,159.7 446.9,162.2 447.6,162.2 C448.3,162.3 449.6,159.2 450.3,159.1 C451.0,158.9 453.0,161.2 453.7,161.3 C454.4,161.3 455.9,159.7 456.5,159.6 C457.1,159.6 458.3,160.8 458.5,161.0" class="c" stroke="#00ffff" stroke-width="1.7"/>
<path d="M294.0,161.8 C294.5,161.8 297.3,162.4 298.0,162.2 C298.7,162.1 299.5,160.7 300.0,160.4 C300.5,160.0 301.4,159.0 302.0,159.1 C302.6,159.1 304.3,160.4 305.0,160.5 C305.7,160.6 307.5,160.1 308.1,160.0 C308.7,159.8 309.5,159.3 310.0,159.1 C310.5,159.0 311.4,158.6 312.1,158.4 C312.8,158.3 315.1,157.9 316.0,157.7 C316.9,157.4 319.2,156.6 320.0,156.5 C320.8,156.3 322.3,156.5 323.0,156.3 C323.7,156.1 325.2,155.1 326.0,154.8 C326.8,154.4 329.3,153.6 330.2,153.4 C331.1,153.2 333.2,153.2 334.0,153.1 C334.8,152.9 336.3,152.3 337.0,152.2 C337.7,152.2 339.2,152.6 340.0,152.7 C340.8,152.8 343.0,153.4 343.8,153.3 C344.6,153.1 345.9,151.7 346.5,151.5 C347.1,151.2 348.5,151.0 349.1,151.0 C349.7,150.9 351.3,151.0 352.0,150.9 C352.7,150.7 354.3,150.0 355.1,149.7 C355.9,149.4 358.1,148.8 359.0,148.4 C359.9,148.1 361.8,147.1 362.7,146.8 C363.6,146.4 365.6,145.8 366.5,145.4 C367.4,145.0 369.4,143.7 370.2,143.2 C371.0,142.8 372.6,142.0 373.3,141.5 C374.0,141.1 375.7,140.0 376.3,139.6 C376.9,139.2 378.1,138.4 378.6,138.0 C379.1,137.7 380.2,136.8 380.8,136.7 C381.4,136.6 383.2,137.5 383.8,137.3 C384.4,137.1 385.5,135.6 386.0,135.1 C386.5,134.6 387.8,133.7 388.4,133.2 C389.0,132.8 390.4,131.7 391.0,131.2 C391.6,130.7 393.2,129.2 393.7,129.0 C394.2,128.8 395.2,129.4 395.6,129.6 C396.0,129.8 397.1,130.9 397.5,130.7 C397.9,130.5 398.6,128.4 399.0,127.8 C399.4,127.2 400.1,125.9 400.5,125.8 C400.9,125.7 402.2,127.1 402.7,126.7 C403.2,126.4 404.5,123.9 405.0,123.1 C405.5,122.2 406.7,119.8 407.3,119.7 C407.9,119.6 409.8,121.8 410.5,122.3 C411.2,122.8 412.9,124.1 413.6,124.3 C414.3,124.4 415.7,123.2 416.3,123.5 C416.9,123.8 418.4,126.4 419.0,126.8 C419.6,127.2 420.8,126.6 421.4,126.5 C422.0,126.5 423.3,126.1 423.8,126.4 C424.3,126.8 425.1,129.1 425.5,129.8 C425.9,130.5 426.8,132.2 427.2,132.4 C427.6,132.7 428.7,131.7 429.3,131.9 C429.9,132.2 431.7,134.2 432.4,134.9 C433.1,135.6 434.7,137.6 435.4,137.8 C436.1,137.9 437.5,136.2 438.1,136.4 C438.7,136.7 440.2,139.8 440.8,140.1 C441.4,140.4 442.4,138.7 442.9,139.0 C443.4,139.4 444.8,142.1 445.3,143.0 C445.8,143.9 447.0,146.2 447.6,146.3 C448.2,146.5 449.7,144.2 450.3,144.2 C450.9,144.1 452.5,145.8 453.1,146.0 C453.7,146.2 455.2,146.0 455.8,146.1 C456.4,146.2 458.2,146.6 458.5,146.7" class="c" stroke="#0000ff" stroke-width="1.7"/>
<path d="M294.0,147.1 C294.7,147.0 296.7,146.6 298.0,146.4 C299.4,146.2 300.7,146.0 302.1,145.8 C303.4,145.6 304.7,145.5 306.1,145.3 C307.4,145.1 308.8,144.6 310.1,144.4 C311.4,144.2 312.8,144.2 314.1,144.0 C315.5,143.7 316.8,143.2 318.1,142.9 C319.5,142.7 320.8,142.6 322.2,142.3 C323.5,142.1 324.8,141.8 326.2,141.6 C327.5,141.3 328.9,141.1 330.2,140.9 C331.5,140.7 332.9,140.5 334.2,140.2 C335.5,140.0 336.9,139.6 338.2,139.2 C339.5,138.8 340.9,138.3 342.2,137.9 C343.5,137.6 344.9,137.3 346.2,136.9 C347.5,136.6 348.7,136.4 350.2,136.1 C351.7,135.7 353.6,135.3 355.2,134.9 C356.9,134.5 358.6,134.1 360.3,133.6 C362.0,133.0 363.6,132.1 365.3,131.4 C367.0,130.6 369.0,129.7 370.3,129.1 C371.6,128.6 371.7,128.8 373.0,128.1 C374.3,127.5 376.3,126.3 378.0,125.3 C379.7,124.3 381.3,123.2 383.0,122.2 C384.7,121.3 386.4,120.3 388.1,119.4 C389.7,118.4 391.1,117.6 393.1,116.3 C395.1,115.1 397.7,113.4 400.0,111.9 C402.3,110.3 404.9,107.4 407.1,107.2 C409.3,106.9 411.4,109.5 413.2,110.4 C415.0,111.3 416.5,111.7 418.2,112.6 C419.9,113.4 421.5,114.4 423.2,115.5 C424.9,116.5 426.5,117.9 428.2,119.0 C429.9,120.2 431.5,121.6 433.2,122.6 C434.9,123.7 436.6,124.4 438.2,125.3 C439.9,126.3 441.6,127.7 443.3,128.4 C445.0,129.2 446.6,129.4 448.3,129.9 C450.0,130.4 451.6,131.0 453.3,131.5 C455.0,131.9 457.6,132.6 458.5,132.8" class="c" stroke="#00f800" stroke-width="1.7"/>
<path d="M294.0,123.4 C295.2,123.2 299.0,122.5 301.0,122.2 C303.0,122.0 304.6,122.5 306.1,122.1 C307.6,121.7 308.8,120.6 310.1,119.9 C311.4,119.2 312.1,118.8 314.1,118.2 C316.1,117.5 320.0,116.5 322.0,116.0 C324.0,115.5 324.7,115.3 326.1,115.0 C327.5,114.7 328.9,114.4 330.2,114.0 C331.5,113.6 332.9,113.0 334.2,112.7 C335.5,112.3 336.9,112.2 338.2,112.0 C339.5,111.9 340.9,111.8 342.2,111.7 C343.5,111.6 344.7,111.8 346.2,111.3 C347.7,110.8 349.6,109.5 351.2,108.6 C352.9,107.7 354.3,106.9 356.3,105.9 C358.3,104.9 360.7,103.5 363.0,102.4 C365.3,101.4 368.1,100.1 370.3,99.3 C372.5,98.5 373.9,98.5 376.0,97.6 C378.1,96.7 381.0,95.1 383.0,93.9 C385.0,92.7 386.4,91.4 388.1,90.1 C389.7,88.8 391.3,87.4 393.1,86.2 C394.9,84.9 397.3,83.5 399.1,82.6 C400.9,81.8 402.5,81.6 404.0,81.0 C405.5,80.5 406.8,79.3 408.1,79.4 C409.4,79.5 410.8,80.7 412.0,81.4 C413.2,82.2 413.7,83.7 415.2,83.9 C416.7,84.2 419.2,82.5 421.2,82.7 C423.2,82.8 425.0,84.1 427.0,85.0 C429.0,85.9 431.4,87.4 433.2,88.1 C435.0,88.9 436.3,89.1 438.0,89.6 C439.7,90.0 441.8,90.4 443.3,91.0 C444.8,91.6 445.7,92.5 447.0,93.3 C448.3,94.2 449.4,95.6 451.3,96.1 C453.2,96.6 457.3,96.3 458.5,96.3" class="c" stroke="#ff0000" stroke-width="1.7"/>
<path d="M294.0,97.3 C295.2,96.7 298.6,94.3 301.0,93.8 C303.4,93.3 305.9,94.5 308.1,94.1 C310.3,93.7 312.0,92.3 314.0,91.3 C316.0,90.3 318.2,88.7 320.1,88.0 C322.0,87.3 323.5,87.5 325.1,87.2 C326.8,86.8 328.2,86.7 330.2,85.9 C332.2,85.0 335.0,82.8 337.2,82.0 C339.4,81.3 341.4,81.9 343.2,81.3 C344.9,80.7 346.2,79.6 347.7,78.6 C349.2,77.7 350.3,76.4 352.2,75.7 C354.1,75.1 357.3,75.5 359.3,74.8 C361.3,74.0 362.5,72.5 364.0,71.2 C365.5,70.0 366.6,68.5 368.3,67.3 C370.0,66.0 372.1,64.9 374.0,63.8 C375.9,62.7 378.5,61.4 380.0,60.6 C381.5,59.8 381.7,59.9 383.0,59.1 C384.3,58.3 386.4,56.9 388.1,55.9 C389.7,54.9 391.4,53.8 393.1,52.9 C394.8,52.0 396.4,51.3 398.1,50.6 C399.8,49.8 401.5,49.0 403.1,48.4 C404.8,47.7 406.3,47.0 408.0,46.4 C409.7,45.9 411.3,45.1 413.2,45.1 C415.1,45.1 417.5,45.9 419.2,46.2 C420.9,46.5 421.9,46.5 423.2,46.6 C424.5,46.8 425.5,46.5 427.2,47.1 C428.9,47.7 431.2,49.8 433.2,50.2 C435.2,50.6 437.6,49.5 439.3,49.6 C441.0,49.7 442.0,50.3 443.3,50.7 C444.6,51.1 445.7,51.5 447.3,51.8 C448.9,52.1 451.1,52.3 453.0,52.6 C454.9,52.8 457.6,53.0 458.5,53.1" class="c" stroke="#000000" stroke-width="1.7"/>
</g>
<path d="M410.6,33.0V41.0" stroke="#000000" stroke-width="1.2" fill="none"/>
<path d="M410.6,45.0L408.4,40.0L412.8,40.0Z" fill="#000000"/>
<path d="M408.5,62.1V70.6" stroke="#ff0000" stroke-width="1.2" fill="none"/>
<path d="M408.5,74.6L406.3,69.6L410.7,69.6Z" fill="#ff0000"/>
<path d="M407.5,92.2V100.7" stroke="#00f800" stroke-width="1.2" fill="none"/>
<path d="M407.5,104.7L405.3,99.7L409.7,99.7Z" fill="#00f800"/>
<path d="M407.0,107.3V115.2" stroke="#0000ff" stroke-width="1.2" fill="none"/>
<path d="M407.0,119.2L404.8,114.2L409.2,114.2Z" fill="#0000ff"/>
<path d="M399.3,153.3V147.8" stroke="#00ffff" stroke-width="1.2" fill="none"/>
<path d="M399.3,143.8L397.1,148.8L401.5,148.8Z" fill="#00ffff"/>
<path d="M413.7,151.6V145.3" stroke="#00ffff" stroke-width="1.2" fill="none"/>
<path d="M413.7,141.3L411.5,146.3L415.9,146.3Z" fill="#00ffff"/>
<path d="M397.2,175.0V169.7" stroke="#ff00ff" stroke-width="1.2" fill="none"/>
<path d="M397.2,165.7L395.0,170.7L399.4,170.7Z" fill="#ff00ff"/>
<path d="M415.3,167.3V161.8" stroke="#ff00ff" stroke-width="1.2" fill="none"/>
<path d="M415.3,157.8L413.1,162.8L417.5,162.8Z" fill="#ff00ff"/>
<path d="M382.0,198.4V193.3" stroke="#800000" stroke-width="1.2" fill="none"/>
<path d="M382.0,189.3L379.8,194.3L384.2,194.3Z" fill="#800000"/>
<path d="M425.7,193.3V187.8" stroke="#800000" stroke-width="1.2" fill="none"/>
<path d="M425.7,183.8L423.5,188.8L427.9,188.8Z" fill="#800000"/>
<path d="M375.4,220.0V214.4" stroke="#808000" stroke-width="1.2" fill="none"/>
<path d="M375.4,210.4L373.2,215.4L377.6,215.4Z" fill="#808000"/>
<path d="M429.6,218.6V213.0" stroke="#808000" stroke-width="1.2" fill="none"/>
<path d="M429.6,209.0L427.4,214.0L431.8,214.0Z" fill="#808000"/>
<path d="M294.1,36.1V233.1H458.3V36.1" fill="none" stroke="#7a7a7a" stroke-width="1.15"/>
<path d="M293.5,36.5 L458.9,36.5" fill="none" stroke="#4a4a4a" stroke-width="0.8" stroke-linecap="butt"/>
<path d="M319.8,233.1v3.0 M319.8,36.5v3.0 M371.3,233.1v3.0 M371.3,36.5v3.0 M422.9,233.1v3.0 M422.9,36.5v3.0 " class="tk"/>
<path d="M345.6,233.1v1.7 M345.6,36.5v1.7 M397.1,233.1v1.7 M397.1,36.5v1.7 M448.6,233.1v1.7 M448.6,36.5v1.7 " class="tk"/>
<path d="M294.1,211.8h-3.0 M458.3,211.8h-3.0 M294.1,141.6h-3.0 M458.3,141.6h-3.0 M294.1,71.4h-3.0 M458.3,71.4h-3.0 " class="tk"/>
<path d="M294.1,176.7h-1.7 M458.3,176.7h-1.7 M294.1,106.5h-1.7 M458.3,106.5h-1.7 " class="tk"/>
<text transform="translate(319.8,251.8) scale(1,1.05)" class="tl" style="font-size:15.9px" text-anchor="middle">30</text>
<text transform="translate(371.3,251.8) scale(1,1.05)" class="tl" style="font-size:15.9px" text-anchor="middle">40</text>
<text transform="translate(422.9,251.8) scale(1,1.05)" class="tl" style="font-size:15.9px" text-anchor="middle">50</text>
<text transform="translate(289.2,76.6) scale(1,1.05)" class="tl" style="font-size:15.9px" text-anchor="end">0.5</text>
<text transform="translate(289.2,146.8) scale(1,1.05)" class="tl" style="font-size:15.9px" text-anchor="end">0.0</text>
<text transform="translate(289.2,217.0) scale(1,1.05)" class="tl" style="font-size:15.9px" text-anchor="end">-0.5</text>
<text x="372.0" y="274.6" class="at" text-anchor="middle" ><tspan font-style="italic">B</tspan> (T)</text>
<text transform="translate(258.0,141.2) rotate(-90) scale(1.000,1.090)" text-anchor="middle" style="font-size:19px;fill:#111;word-spacing:-1px"><tspan font-size="21px">S</tspan><tspan font-style="italic" font-size="13px" dy="4.6">yx</tspan><tspan dy="-4.6"> (a.u.)</tspan></text>
<text transform="translate(260.0,47.4) scale(1,1.06)" class="pl">D</text>
<text x="298.2" y="85.2" class="tl" text-anchor="start" style="font-size:11.6px;fill:#000000" textLength="31.6" lengthAdjust="spacingAndGlyphs">15.6 K</text>
<text x="298.2" y="111.6" class="tl" text-anchor="start" style="font-size:11.6px;fill:#ff0000" textLength="31.6" lengthAdjust="spacingAndGlyphs">12.7 K</text>
<text x="300.6" y="140.2" class="tl" text-anchor="start" style="font-size:11.6px;fill:#00f800" textLength="26.2" lengthAdjust="spacingAndGlyphs">9.8 K</text>
<text x="300.6" y="156.2" class="tl" text-anchor="start" style="font-size:11.6px;fill:#0000ff" textLength="26.2" lengthAdjust="spacingAndGlyphs">9.5 K</text>
<text x="300.6" y="172.7" class="tl" text-anchor="start" style="font-size:11.6px;fill:#00ffff" textLength="26.2" lengthAdjust="spacingAndGlyphs">9.2 K</text>
<text x="305.7" y="185.9" class="tl" text-anchor="start" style="font-size:11.6px;fill:#ff00ff" textLength="16.4" lengthAdjust="spacingAndGlyphs">9 K</text>
<text x="300.6" y="202.0" class="tl" text-anchor="start" style="font-size:11.6px;fill:#800080" textLength="26.2" lengthAdjust="spacingAndGlyphs">8.2 K</text>
<text x="300.6" y="220.8" class="tl" text-anchor="start" style="font-size:11.6px;fill:#808000" textLength="26.2" lengthAdjust="spacingAndGlyphs">7.3 K</text>
</g>
<g>
<path d="M398.1,323.5 L392.9,380.4 L390.6,437.4" fill="none" stroke="#000" stroke-width="0.9" stroke-linecap="butt" stroke-dasharray="3 3.2"/>
<rect x="395.5" y="320.9" width="5.2" height="5.2" fill="#000"/>
<rect x="390.3" y="377.8" width="5.2" height="5.2" fill="#000"/>
<rect x="388.0" y="434.8" width="5.2" height="5.2" fill="#000"/>
<rect x="387.3" y="440.7" width="5.2" height="5.2" fill="#000"/>
<circle cx="315.2" cy="486.5" r="3.6" fill="#ff0000"/>
<circle cx="332.8" cy="468.8" r="3.6" fill="#ff0000"/>
<circle cx="366.8" cy="453.1" r="3.6" fill="#ff0000"/>
<circle cx="370.1" cy="449.2" r="3.6" fill="#ff0000"/>
<circle cx="404.0" cy="449.2" r="3.6" fill="#ff0000"/>
<circle cx="409.3" cy="453.1" r="3.6" fill="#ff0000"/>
<circle cx="430.6" cy="468.8" r="3.6" fill="#ff0000"/>
<circle cx="442.1" cy="486.5" r="3.6" fill="#ff0000"/>
<rect x="295.0" y="296.1" width="164.2" height="195.9" fill="none" stroke="#808080" stroke-width="1.2"/>
<path d="M307.0,492.0v3.0 M307.0,296.1v3.0 M330.4,492.0v3.0 M330.4,296.1v3.0 M353.9,492.0v3.0 M353.9,296.1v3.0 M377.3,492.0v3.0 M377.3,296.1v3.0 M400.8,492.0v3.0 M400.8,296.1v3.0 M424.2,492.0v3.0 M424.2,296.1v3.0 M447.6,492.0v3.0 M447.6,296.1v3.0 " class="tk"/>
<path d="M318.7,492.0v1.8 M318.7,296.1v1.8 M342.2,492.0v1.8 M342.2,296.1v1.8 M365.6,492.0v1.8 M365.6,296.1v1.8 M389.0,492.0v1.8 M389.0,296.1v1.8 M412.5,492.0v1.8 M412.5,296.1v1.8 M435.9,492.0v1.8 M435.9,296.1v1.8 " class="tk"/>
<path d="M295.0,472.7h-3.0 M459.2,472.7h-3.0 M295.0,433.4h-3.0 M459.2,433.4h-3.0 M295.0,394.2h-3.0 M459.2,394.2h-3.0 M295.0,354.9h-3.0 M459.2,354.9h-3.0 M295.0,315.6h-3.0 M459.2,315.6h-3.0 " class="tk"/>
<path d="M295.0,453.1h-1.8 M459.2,453.1h-1.8 M295.0,413.8h-1.8 M459.2,413.8h-1.8 M295.0,374.5h-1.8 M459.2,374.5h-1.8 M295.0,335.2h-1.8 M459.2,335.2h-1.8 " class="tk"/>
<text transform="translate(307.0,510.3) scale(1,1.02)" class="tl" style="font-size:16.0px" text-anchor="middle">40</text>
<text transform="translate(330.4,510.3) scale(1,1.02)" class="tl" style="font-size:16.0px" text-anchor="middle">42</text>
<text transform="translate(353.9,510.3) scale(1,1.02)" class="tl" style="font-size:16.0px" text-anchor="middle">44</text>
<text transform="translate(377.3,510.3) scale(1,1.02)" class="tl" style="font-size:16.0px" text-anchor="middle">46</text>
<text transform="translate(400.8,510.3) scale(1,1.02)" class="tl" style="font-size:16.0px" text-anchor="middle">48</text>
<text transform="translate(424.2,510.3) scale(1,1.02)" class="tl" style="font-size:16.0px" text-anchor="middle">50</text>
<text transform="translate(447.6,510.3) scale(1,1.02)" class="tl" style="font-size:16.0px" text-anchor="middle">52</text>
<text transform="translate(290.4,477.7) scale(1,1.02)" class="tl" style="font-size:16.0px" text-anchor="end">8</text>
<text transform="translate(290.4,438.4) scale(1,1.02)" class="tl" style="font-size:16.0px" text-anchor="end">10</text>
<text transform="translate(290.4,399.2) scale(1,1.02)" class="tl" style="font-size:16.0px" text-anchor="end">12</text>
<text transform="translate(290.4,359.9) scale(1,1.02)" class="tl" style="font-size:16.0px" text-anchor="end">14</text>
<text transform="translate(290.4,320.6) scale(1,1.02)" class="tl" style="font-size:16.0px" text-anchor="end">16</text>
<text transform="translate(373.4,532.9) scale(1,1.03)" class="at" style="font-size:18.3px" text-anchor="middle"><tspan font-style="italic">B</tspan> (T)</text>
<text transform="translate(267.2,383.6) rotate(-90) scale(1.07,1.03)" class="at" text-anchor="middle"><tspan font-style="italic">T</tspan> (K)</text>
<text transform="translate(261.9,304.9) scale(1,1.2)" class="pl">E</text>
</g>
</svg>
</body></html>
